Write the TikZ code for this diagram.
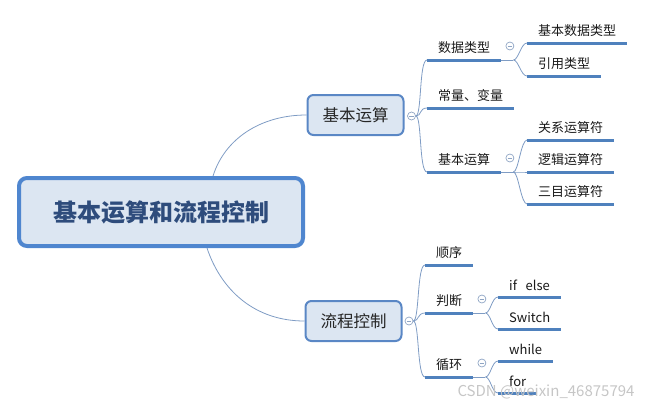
\documentclass[tikz,border=0pt]{standalone}
\usepackage{fontspec}
\setmainfont{Noto Sans CJK SC}
\usetikzlibrary{calc}

\definecolor{boxfill}{HTML}{DCE6F2}
\definecolor{boxline}{HTML}{5A87C5}
\definecolor{rootline}{HTML}{4F86CF}
\definecolor{roottext}{HTML}{2E4C7C}
\definecolor{ulinecol}{HTML}{4F81BD}
\definecolor{wirecol}{HTML}{7F9CC4}
\definecolor{foldcol}{HTML}{8FA5C4}

\tikzset{
  rootbox/.style={draw=rootline, line width=4pt, fill=boxfill, rounded corners=8pt,
    minimum width=284pt, minimum height=68pt, text=roottext,
    font=\fontsize{24}{28}\selectfont\bfseries},
  topicbox/.style={draw=boxline, line width=2pt, fill=boxfill, rounded corners=6pt,
    minimum width=96pt, minimum height=40pt, text=black!85,
    font=\fontsize{16.5}{20}\selectfont},
  leaf/.style={anchor=south west, inner xsep=11pt, inner ysep=6pt, text=black!90,
    font=\fontsize{13}{15}\selectfont},
  uline/.style={draw=ulinecol, line width=3pt},
  wire/.style={draw=wirecol, line width=0.8pt},
  fold/.style={circle, draw=foldcol, line width=0.7pt, minimum size=8pt, inner sep=0pt},
}

\begin{document}
\begin{tikzpicture}[x=1pt,y=-1pt]
	\useasboundingbox (0,0) rectangle (645,410);

	% root and main topics
	\node[rootbox] (root) at (161,212) {基本运算和流程控制};
	\node[topicbox] (calc) at (355.5,115) {基本运算};
	\node[topicbox] (flow) at (353.5,321) {流程控制};
	\node[fold] (calc-f) at (411.5,116) {};
	\node[fold] (flow-f) at (409,321) {};
	\coordinate (r-up) at ($(root.north)+(52,0)$);
	\coordinate (r-dn) at ($(root.south)+(46,0)$);
	\draw[wire] (r-up) .. controls +(12,-38) and +(-45,0) .. (calc.west);
	\draw[wire] (r-dn) .. controls +(14,42) and +(-50,0) .. (flow.west);

	% branch: basic operations
	\node[leaf] (dtype) at (427,60) {数据类型};
	\node[leaf] (const) at (427,108) {常量、变量};
	\node[leaf] (oper) at (427,172) {基本运算};
	\node[leaf] (basic) at (527,43) {基本数据类型};
	\node[leaf] (refer) at (527,76) {引用类型};
	\node[leaf] (rel) at (527,140) {关系运算符};
	\node[leaf] (logic) at (527,172) {逻辑运算符};
	\node[leaf] (tern) at (527,204) {三目运算符};

	% branch: flow control
	\node[leaf] (seq) at (425,265) {顺序};
	\node[leaf] (cond) at (425,313) {判断};
	\node[leaf] (loop) at (425,377) {循环};
	\node[leaf] (ifelse) at (498,297) {if\ \ \ else};
	\node[leaf] (switch) at (498,329) {Switch};
	\node[leaf] (while) at (498,361) {while};
	\node[leaf] (for) at (498,393) {for};

	% wires from the main topics
	\foreach \n in {dtype,const,oper}
		\draw[wire] (calc-f.east) .. controls +(6,0) and +(-8,0) .. (\n.south west);
	\foreach \n in {seq,cond,loop}
		\draw[wire] (flow-f.east) .. controls +(6,0) and +(-8,0) .. (\n.south west);

	% sub branches
	\draw[wire] (dtype.south east) -- ++(12,0) coordinate (dtype-j);
	\draw[wire] (oper.south east) -- ++(12,0) coordinate (oper-j);
	\draw[wire] (cond.south east) -- ++(12,0) coordinate (cond-j);
	\draw[wire] (loop.south east) -- ++(12,0) coordinate (loop-j);
	\foreach \p/\n in {dtype/basic,dtype/refer,oper/rel,oper/logic,oper/tern,
		cond/ifelse,cond/switch,loop/while,loop/for}
		\draw[wire] (\p-j) .. controls +(5,0) and +(-6,0) .. (\n.south west);
	\foreach \n in {dtype,oper,cond,loop}
		\node[fold] (\n-f) at ($(\n.south east)+(8.5,-14)$) {};

	% underlines
	\foreach \n in {dtype,const,oper,basic,refer,rel,logic,tern,
		seq,cond,loop,ifelse,switch,while,for}
		\draw[uline] (\n.south west) -- (\n.south east);

	% fold marks
	\foreach \n in {calc,flow,dtype,oper,cond,loop}
		\draw[foldcol, line width=0.7pt] ($(\n-f.center)+(-2.2,0)$) -- ($(\n-f.center)+(2.2,0)$);

	\node[text=gray!45, font=\fontsize{15}{18}\selectfont] (mark) at (546,392) {CSDN @weixin\_46875794};
\end{tikzpicture}
\end{document}
